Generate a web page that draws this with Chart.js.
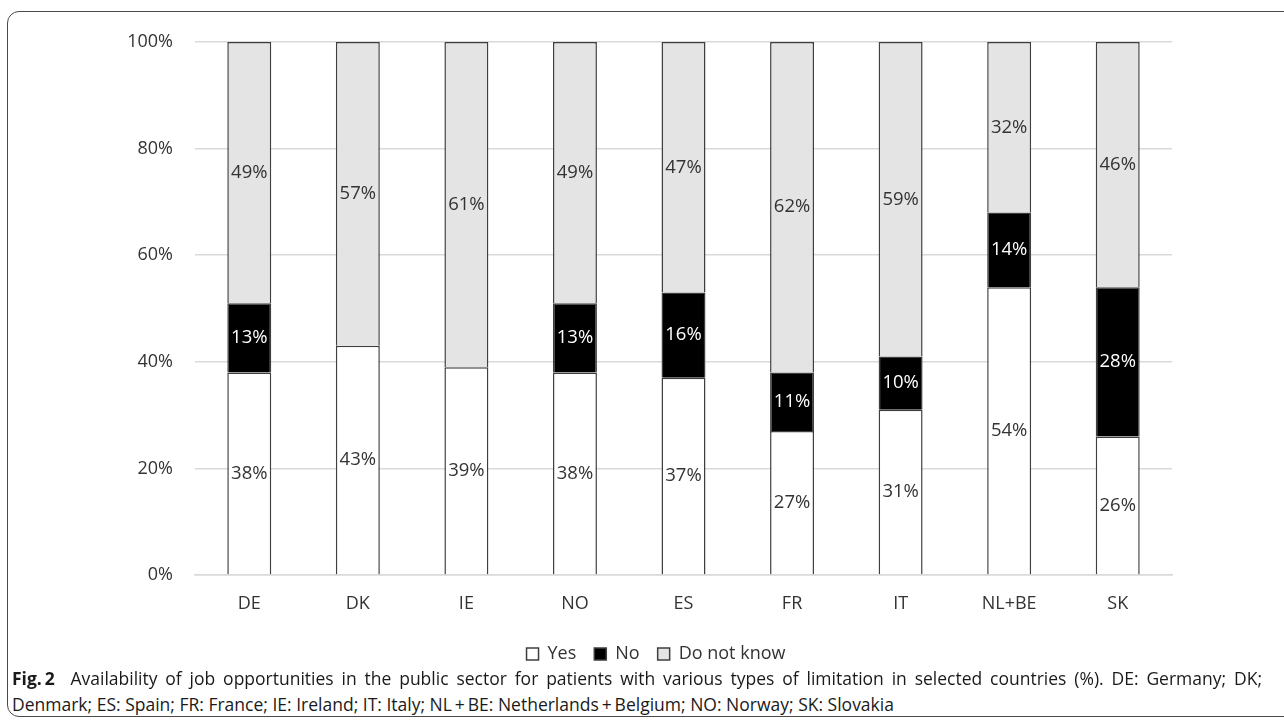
<!DOCTYPE html>
<html>
<head>
<meta charset="utf-8">
<title>Availability of job opportunities in the public sector</title>
<script src="https://cdn.jsdelivr.net/npm/chart.js@4.4.1/dist/chart.umd.min.js"></script>
<style>
  html, body { margin: 0; padding: 0; background: #fff; width: 1284px; height: 728px; overflow: hidden; }
  #frame { position: absolute; left: 7px; top: 11px; width: 1300px; height: 706px;
           border: 1.5px solid #4a4a4a; border-radius: 12px; box-sizing: border-box; }
  #chart { position: absolute; left: 0; top: 0; }
  .cap { position: absolute; left: 12px; font-family: 'Open Sans', sans-serif; font-size: 17.5px;
         color: #1a1a1a; white-space: nowrap; line-height: 20px; }
  .cap.full { width: 1250px; text-align: justify; text-align-last: justify; white-space: normal; }
  .cap b { font-weight: 700; }
</style>
</head>
<body>
<div id="frame"></div>
<canvas id="chart" width="1284" height="673"></canvas>
<div class="cap full" style="top:668px"><b>Fig.&thinsp;2</b>&nbsp; Availability of job opportunities in the public sector for patients with various types of limitation in selected countries (%). DE: Germany; DK;</div>
<div class="cap" style="top:694px">Denmark; ES: Spain; FR: France; IE: Ireland; IT: Italy; NL&thinsp;+&thinsp;BE: Netherlands&thinsp;+&thinsp;Belgium; NO: Norway; SK: Slovakia</div>
<script>
// Countries and answer shares (%)
const countries = ['DE', 'DK', 'IE', 'NO', 'ES', 'FR', 'IT', 'NL+BE', 'SK'];
const yesValues = [38, 43, 39, 38, 37, 27, 31, 54, 26];
const noValues = [13, 0, 0, 13, 16, 11, 10, 14, 28];
const dontKnowValues = [49, 57, 61, 49, 47, 62, 59, 32, 46];
const yTicks = [0, 20, 40, 60, 80, 100];

const FONT = "'Open Sans', sans-serif";
const EDGE = '#3f3f3f';

// Writes each segment's percentage in the middle of its bar segment
const segmentLabels = {
  id: 'segmentLabels',
  afterDatasetsDraw(chart) {
    const ctx = chart.ctx;
    ctx.save();
    ctx.font = `18.5px ${FONT}`;
    ctx.textAlign = 'center';
    ctx.textBaseline = 'middle';
    chart.data.datasets.forEach((ds, i) => {
      const meta = chart.getDatasetMeta(i);
      meta.data.forEach((bar, j) => {
        const v = ds.data[j];
        if (!v) return;
        ctx.fillStyle = ds.labelColor;
        ctx.fillText(v + '%', bar.x, (bar.y + bar.base) / 2);
      });
    });
    ctx.restore();
  }
};

// Narrows the legend's box on the left so its row sits a little right of the canvas centre
const legendOffset = {
  id: 'legendOffset',
  afterLayout(chart) {
    if (chart.legend) chart.legend.left = 140;
  }
};

new Chart(document.getElementById('chart'), {
  type: 'bar',
  data: {
    labels: countries,
    datasets: [
      { label: 'Yes', data: yesValues, backgroundColor: '#ffffff', borderColor: EDGE,
        borderWidth: 1.5, labelColor: '#333333' },
      { label: 'No', data: noValues, backgroundColor: '#000000', borderColor: EDGE,
        borderWidth: 1.5, labelColor: '#ffffff' },
      { label: 'Do not know', data: dontKnowValues, backgroundColor: '#e4e4e4', borderColor: EDGE,
        borderWidth: 1.5, labelColor: '#333333' }
    ]
  },
  options: {
    responsive: false,
    animation: false,
    devicePixelRatio: 1,
    layout: { padding: { top: 42, left: 0, right: 112, bottom: 0 } },
    datasets: { bar: { categoryPercentage: 1, barPercentage: 0.405 } },
    scales: {
      x: {
        stacked: true,
        grid: { display: false },
        border: { display: true, color: '#d9d9d9', width: 1.5 },
        ticks: { color: '#333333', font: { family: FONT, size: 18 }, padding: 10 },
        afterFit(s) { s.height = 52; }
      },
      y: {
        stacked: true,
        min: 0, max: 100,
        afterBuildTicks(s) { s.ticks = yTicks.map(v => ({ value: v })); },
        grid: { color: '#d9d9d9', lineWidth: 1.5, drawTicks: false },
        border: { display: false },
        ticks: { color: '#333333', font: { family: FONT, size: 18 }, padding: 22,
                 callback: v => v + '%' },
        afterFit(s) { s.width = 195; }
      }
    },
    plugins: {
      legend: {
        position: 'bottom',
        labels: { boxWidth: 12, boxHeight: 12, padding: 18, color: '#333333',
                  font: { family: FONT, size: 18 } }
      },
      tooltip: { enabled: false }
    }
  },
  plugins: [segmentLabels, legendOffset]
});
</script>
</body>
</html>
